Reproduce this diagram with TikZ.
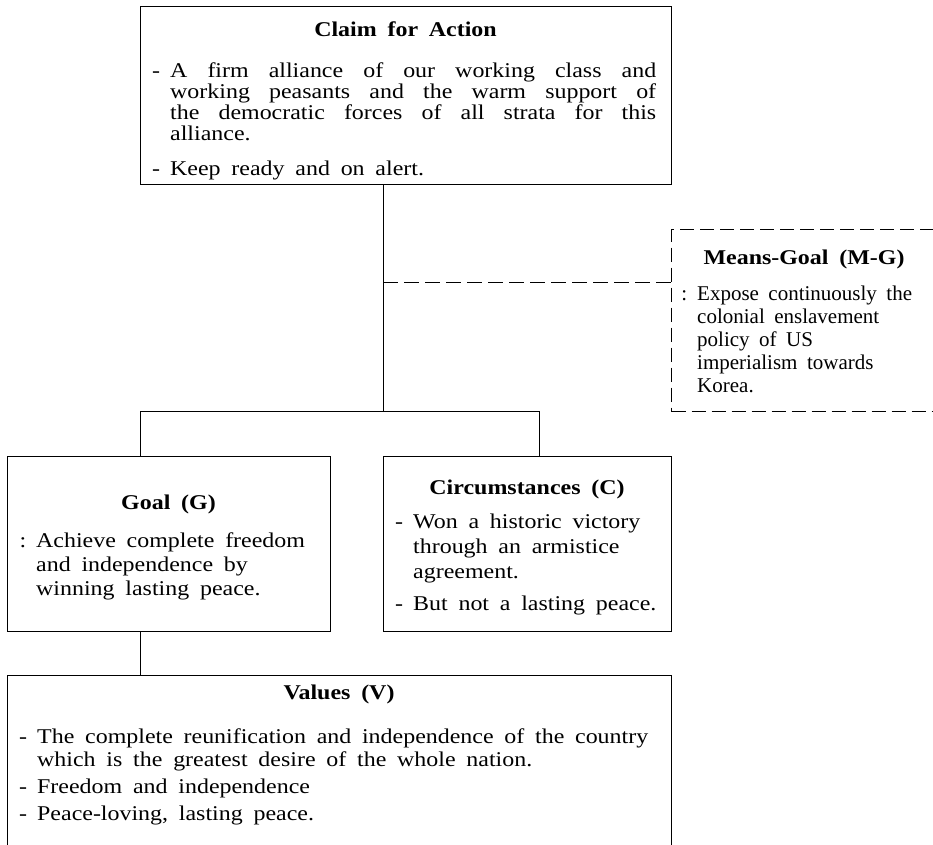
\documentclass[tikz,border=0pt]{standalone}
\usepackage{fontspec}
\setmainfont{Liberation Serif}[FakeStretch=1.14, WordSpace=1.8]
\newfontfamily\mgfont{Liberation Serif}[WordSpace=1.8]
\newcommand\jl[2]{\makebox[#1][s]{#2}}
\newcommand\dashitem{\leavevmode\llap{-\hspace{10pt}}}
\newcommand\colonitem{\leavevmode\llap{:\hspace{10pt}}}
\newcommand\bodysize[1]{\fontsize{21}{#1}\selectfont\lineskiplimit=-50pt\lineskip=0pt}
\tikzset{
  box/.style={draw, line width=1pt, inner sep=0pt, anchor=north west},
  mgbox/.style={box, dash pattern=on 14pt off 6pt},
  link/.style={line width=1pt},
  mglink/.style={line width=1pt, dash pattern=on 15pt off 6pt},
  txt/.style={inner sep=0pt, anchor=base west},
  ttl/.style={inner sep=0pt, anchor=base, font=\fontsize{21}{23}\selectfont\bfseries},
}
\begin{document}
\begin{tikzpicture}[x=1pt,y=-1pt]
\useasboundingbox (0,0) rectangle (933,844);
\clip (0,0) rectangle (933,844);
% boxes
\node[box, minimum width=531pt, minimum height=178pt] (claim) at (140,6) {};
\node[mgbox, minimum width=320pt, minimum height=182pt] (mg) at (671,229) {};
\node[box, minimum width=323pt, minimum height=175pt] (goal) at (7,456) {};
\node[box, minimum width=288pt, minimum height=175pt] (circ) at (383,456) {};
\node[box, minimum width=664pt, minimum height=200pt] (values) at (7,675) {};
% connectors
\coordinate (hub) at (383,411);
\coordinate (mgjoin) at (383,282);
\coordinate (gjoin) at (140,411);
\coordinate (cjoin) at (539,411);
\draw[link] (claim.south -| hub) -- (hub);
\draw[mglink] (mgjoin) -- (mgjoin -| mg.west);
\draw[link] (goal.north -| gjoin) -- (gjoin) -- (cjoin) -- (circ.north -| cjoin);
\draw[link] (goal.south -| gjoin) -- (values.north -| gjoin);
% claim text
\node[ttl] (claimttl) at (405.5,36) {Claim for Action};
\node[txt] (claimbody) at (170,77) {\parbox[t]{490pt}{\bodysize{21}%
\dashitem\jl{486pt}{A firm alliance of our working class and}\\
\jl{486pt}{working peasants and the warm support of}\\
\jl{486pt}{the democratic forces of all strata for this}\\
alliance.\\[14pt]
\dashitem Keep ready and on alert.}};
% means-goal text
\node[ttl] (mgttl) at (804,264) {Means-Goal (M-G)};
\node[txt] (mgbody) at (697,300) {\parbox[t]{230pt}{\mgfont\bodysize{23}%
\colonitem Expose continuously the\\
colonial enslavement\\
policy of US\\
imperialism towards\\
Korea.}};
% goal text
\node[ttl] (goalttl) at (168.5,509) {Goal (G)};
\node[txt] (goalbody) at (36,547) {\parbox[t]{290pt}{\bodysize{24}%
\colonitem Achieve complete freedom\\
and independence by\\
winning lasting peace.}};
% circumstances text
\node[ttl] (circttl) at (527,494) {Circumstances (C)};
\node[txt] (circbody) at (413,528) {\parbox[t]{260pt}{\bodysize{25}%
\dashitem Won a historic victory\\
through an armistice\\
agreement.\\[7pt]
\dashitem But not a lasting peace.}};
% values text
\node[ttl] (valttl) at (339,699) {Values (V)};
\node[txt] (valbody) at (37,743) {\parbox[t]{620pt}{\bodysize{23}%
\dashitem\jl{611pt}{The complete reunification and independence of the country}\\
which is the greatest desire of the whole nation.\\[4pt]
\dashitem Freedom and independence\\[4pt]
\dashitem Peace-loving, lasting peace.}};
\end{tikzpicture}
\end{document}
